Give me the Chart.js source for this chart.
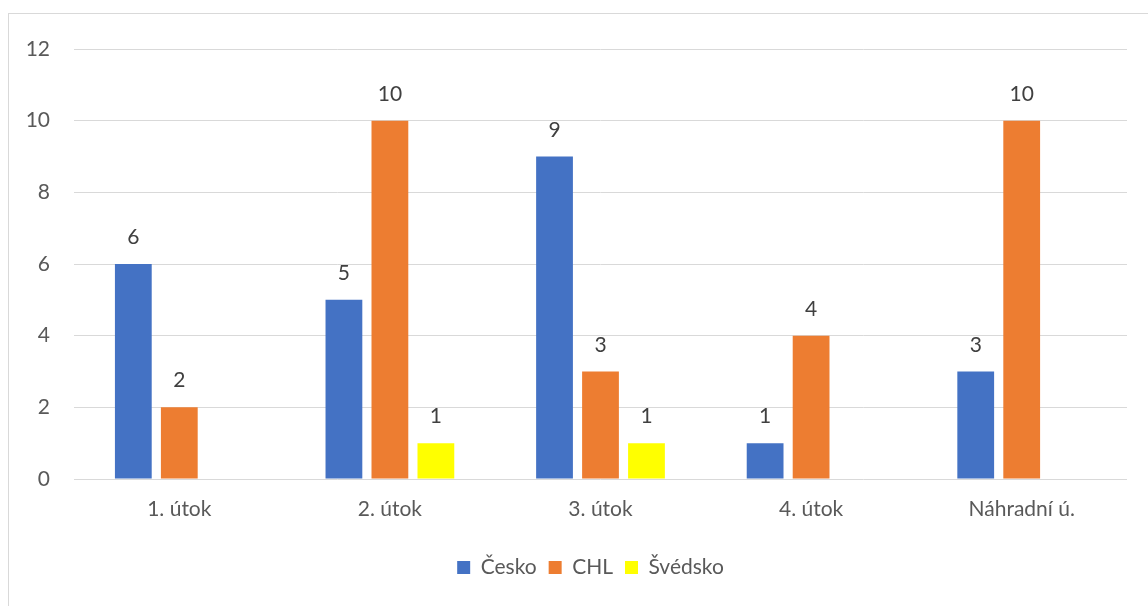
<!DOCTYPE html>
<html>
<head>
<meta charset="utf-8">
<script src="https://cdn.jsdelivr.net/npm/chart.js@4.4.1/dist/chart.umd.min.js"></script>
<style>
  html, body { margin:0; padding:0; background:#fff; }
  #wrap { position:relative; width:1148px; height:606px; overflow:hidden; }
  #frame { position:absolute; left:8px; top:13px; width:1160px; height:620px; border:1px solid #d9d9d9; box-sizing:border-box; }
  canvas { position:absolute; left:0; top:0; }
</style>
</head>
<body>
<div id="wrap">
  <div id="frame"></div>
  <canvas id="chart" width="1148" height="606"></canvas>
</div>
<script>
// data
const categories = ['1. útok', '2. útok', '3. útok', '4. útok', 'Náhradní ú.'];
const cesko   = [6, 5, 9, 1, 3];
const chl     = [2, 10, 3, 4, 10];
const svedsko = [null, 1, 1, null, null];
const yTicks  = [0, 2, 4, 6, 8, 10, 12];

const FONT = 'Lato, Carlito, Calibri, sans-serif';

// simple value labels above bars (no datalabels plugin offline)
const barLabels = {
  id: 'barLabels',
  afterDatasetsDraw(chart) {
    const ctx = chart.ctx;
    ctx.save();
    ctx.font = '21px ' + FONT;
    ctx.fillStyle = '#404040';
    ctx.textAlign = 'center';
    ctx.textBaseline = 'alphabetic';
    chart.data.datasets.forEach((ds, i) => {
      const meta = chart.getDatasetMeta(i);
      meta.data.forEach((el, j) => {
        const v = ds.data[j];
        if (v === null || v === undefined) return;
        ctx.fillText(String(v), el.x, el.y - 20);
      });
    });
    ctx.restore();
  }
};

// original legend sits a bit right of canvas centre
const legendShift = {
  id: 'legendShift',
  afterLayout(chart) {
    const lg = chart.legend;
    if (!lg) return;
    lg.left += 27; lg.right += 27;
  }
};

new Chart(document.getElementById('chart'), {
  type: 'bar',
  data: {
    labels: categories,
    datasets: [
      { label: 'Česko', data: cesko, backgroundColor: '#4472C4' },
      { label: 'CHL', data: chl, backgroundColor: '#ED7D31' },
      { label: 'Švédsko', data: svedsko, backgroundColor: '#FFFF00' }
    ]
  },
  options: {
    responsive: false,
    animation: false,
    datasets: { bar: { categoryPercentage: 0.655, barPercentage: 0.8 } },
    layout: { padding: { left: 0, top: 49, right: 21, bottom: 18 } },
    plugins: {
      legend: {
        position: 'bottom',
        labels: { boxWidth: 13, boxHeight: 13, padding: 12, color: '#595959', font: { family: FONT, size: 21 } }
      },
      tooltip: { enabled: false }
    },
    scales: {
      x: {
        grid: { display: false, drawTicks: false },
        border: { display: false },
        ticks: { padding: 18, color: '#595959', font: { family: FONT, size: 21 } },
        afterFit(s) { s.height = 66; }
      },
      y: {
        min: 0, max: 12,
        afterBuildTicks(s) { s.ticks = yTicks.map(v => ({ value: v })); },
        grid: { color: '#d9d9d9', lineWidth: 1, drawTicks: false },
        border: { display: false },
        ticks: { padding: 24, color: '#595959', font: { family: FONT, size: 21 } },
        afterFit(s) { s.width = 74; }
      }
    }
  },
  plugins: [barLabels, legendShift]
});
</script>
</body>
</html>
